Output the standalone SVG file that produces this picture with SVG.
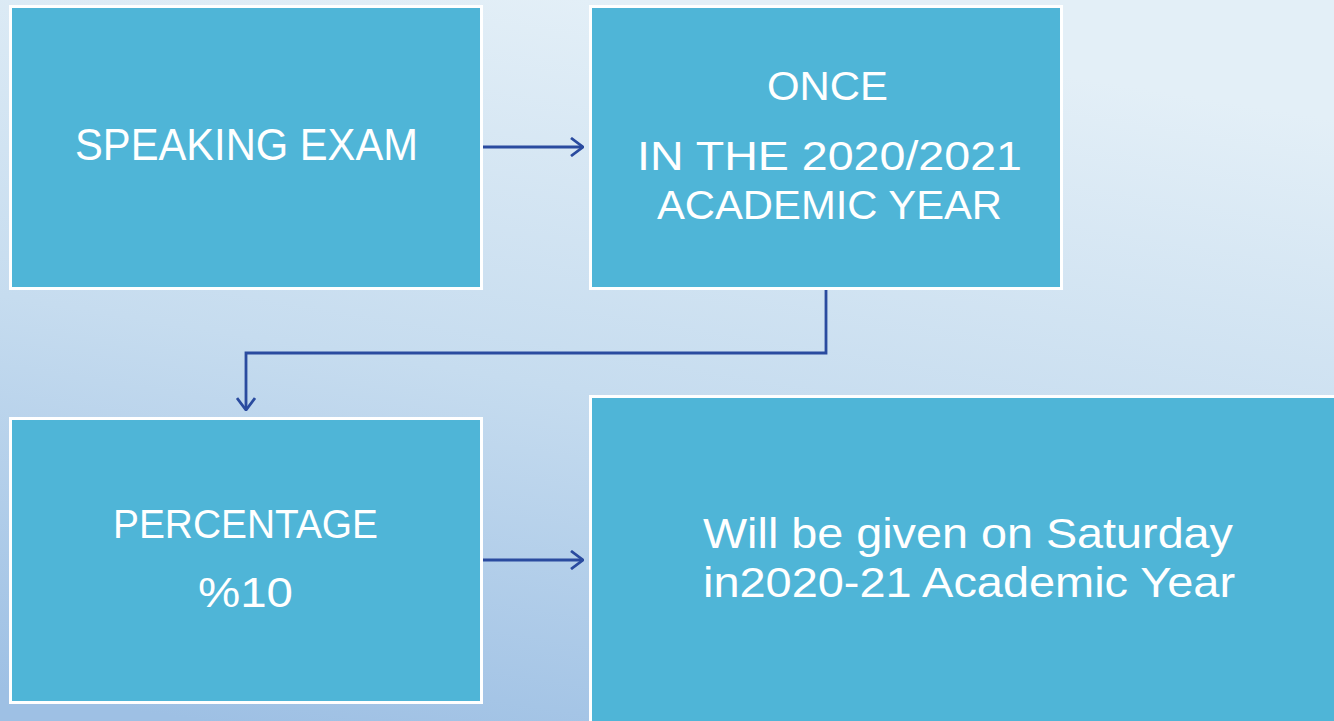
<svg xmlns="http://www.w3.org/2000/svg" width="1334" height="721" viewBox="0 0 1334 721">
  <defs>
    <linearGradient id="bg" x1="0.45" y1="0" x2="0.15" y2="1">
      <stop offset="0" stop-color="#e3eff7"/>
      <stop offset="0.5" stop-color="#c6dcef"/>
      <stop offset="1" stop-color="#9ec0e4"/>
    </linearGradient>
    <marker id="arr" viewBox="0 0 14 20" refX="13" refY="10" markerWidth="14" markerHeight="20" markerUnits="userSpaceOnUse" orient="auto">
      <path d="M1,1 L13,10 L1,19" fill="none" stroke="#2a4b9f" stroke-width="2.8"/>
    </marker>
  </defs>
  <style>
    .box { fill: #4fb5d7; stroke: #ffffff; stroke-width: 3; }
    .t { fill: #ffffff; font-family: "Liberation Sans", "DejaVu Sans", sans-serif; text-anchor: middle; }
    .conn { fill: none; stroke: #2a4b9f; stroke-width: 2.8; marker-end: url(#arr); }
  </style>
  <rect x="0" y="0" width="1334" height="721" fill="url(#bg)"/>

  <g id="node-speaking">
    <rect class="box" x="10.5" y="6.5" width="471" height="282"/>
    <text class="t" x="246.5" y="160" font-size="44" textLength="343" lengthAdjust="spacingAndGlyphs">SPEAKING EXAM</text>
  </g>

  <g id="node-once">
    <rect class="box" x="590.5" y="6.5" width="471" height="282"/>
    <text class="t" x="827.5" y="100" font-size="40" textLength="121" lengthAdjust="spacingAndGlyphs">ONCE</text>
    <text class="t" x="829.5" y="170" font-size="41" textLength="385" lengthAdjust="spacingAndGlyphs">IN THE 2020/2021</text>
    <text class="t" x="829.5" y="219" font-size="41" textLength="345" lengthAdjust="spacingAndGlyphs">ACADEMIC YEAR</text>
  </g>

  <g id="node-percentage">
    <rect class="box" x="10.5" y="418.5" width="471" height="284"/>
    <text class="t" x="245.5" y="538" font-size="40" textLength="265" lengthAdjust="spacingAndGlyphs">PERCENTAGE</text>
    <text class="t" x="245.5" y="607" font-size="42" textLength="95" lengthAdjust="spacingAndGlyphs">%10</text>
  </g>

  <g id="node-saturday">
    <rect class="box" x="590.5" y="396.5" width="760" height="340"/>
    <text class="t" x="968" y="548" font-size="42" textLength="530" lengthAdjust="spacingAndGlyphs">Will be given on Saturday</text>
    <text class="t" x="969" y="597" font-size="42" textLength="532" lengthAdjust="spacingAndGlyphs">in2020-21 Academic Year</text>
  </g>

  <g id="connectors">
    <path class="conn" d="M483,147 L583,147"/>
    <path class="conn" d="M826,290 L826,353 L246,353 L246,410"/>
    <path class="conn" d="M483,560 L583,560"/>
  </g>
</svg>
